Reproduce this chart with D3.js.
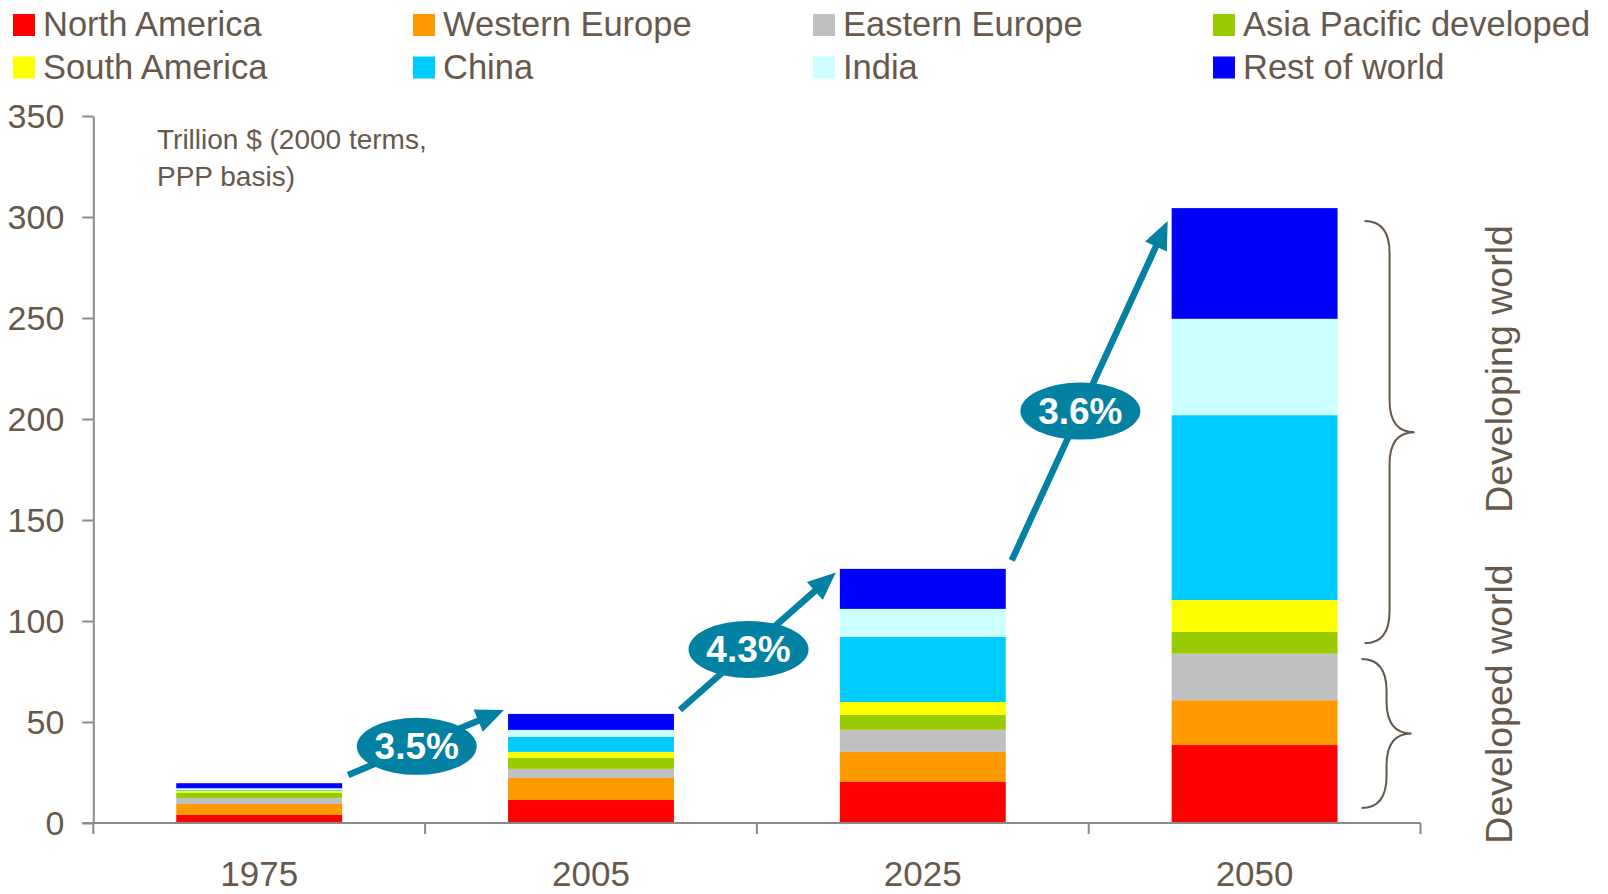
<!DOCTYPE html>
<html>
<head>
<meta charset="utf-8">
<script src="https://cdn.jsdelivr.net/npm/d3@7"></script>
<style>
  body { margin: 0; background: #fff; }
  svg { display: block; font-family: "Liberation Sans", Arial, sans-serif; }
</style>
</head>
<body>
<div id="chart"></div>
<script>
// data (trillion $, 2000 terms, PPP)
const years = ['1975', '2005', '2025', '2050'];
const regions = ['North America', 'Western Europe', 'Eastern Europe', 'Asia Pacific developed',
  'South America', 'China', 'India', 'Rest of world'];
const colors = ['#ff0000', '#ff9900', '#c0c0c0', '#99cc00', '#ffff00', '#00ccff', '#ccffff', '#0000ff'];

const northAmerica = [4.0, 11.4, 20.3, 38.6];
const westernEurope = [5.4, 10.9, 14.9, 22.2];
const easternEurope = [3.0, 4.5, 10.9, 23.0];
const asiaPacificDev = [2.6, 5.4, 7.4, 10.8];
const southAmerica = [1.0, 3.0, 6.4, 15.8];
const china = [0.4, 7.4, 32.2, 91.5];
const india = [0.8, 3.5, 13.9, 47.7];
const restOfWorld = [2.5, 7.9, 19.8, 54.8];

const yTicks = [0, 50, 100, 150, 200, 250, 300, 350];

// growth arrows between bars (value at tail / head)
const growthLabels = ['3.5%', '4.3%', '3.6%'];
const arrowFrom = [23.8, 56, 130];
const arrowTo = [56, 124, 298];

// braces on the right: [top value, bottom value]
const braceRanges = [[298, 89], [81.2, 7.4]];
const braceLabels = ['Developing world', 'Developed world'];

const series = [northAmerica, westernEurope, easternEurope, asiaPacificDev,
  southAmerica, china, india, restOfWorld];

const table = years.map((yr, i) => {
  const row = { year: yr };
  regions.forEach((r, k) => { row[r] = series[k][i]; });
  return row;
});

const W = 1608;
const H = 894;
const textColor = '#66594c';
const axisColor = '#8a8a8a';
const teal = '#0381a3';

const svg = d3.select('#chart').append('svg').attr('width', W).attr('height', H);

const x = d3.scaleBand().domain(years).range([93.3, 1420.5])
  .paddingInner(0.5).paddingOuter(0.25);
const y = d3.scaleLinear().domain([0, 350]).range([823, 116]);

const stacked = d3.stack().keys(regions)(table);
const color = d3.scaleOrdinal().domain(regions).range(colors);

// bars
svg.append('g').selectAll('g')
  .data(stacked)
  .join('g')
  .attr('fill', d => color(d.key))
  .selectAll('rect')
  .data(d => d)
  .join('rect')
  .attr('x', d => x(d.data.year))
  .attr('width', x.bandwidth())
  .attr('y', d => y(d[1]))
  .attr('height', d => y(d[0]) - y(d[1]));

// y axis
const yAxis = svg.append('g')
  .attr('transform', `translate(${x.range()[0]},0)`)
  .call(d3.axisLeft(y).tickValues(yTicks).tickSize(11).tickSizeOuter(0).tickPadding(18));
yAxis.select('.domain').attr('stroke', axisColor).attr('stroke-width', 2);
yAxis.selectAll('.tick line').attr('stroke', axisColor).attr('stroke-width', 2);
yAxis.selectAll('.tick text')
  .attr('fill', textColor).style('font-size', '34px').attr('dy', '0.35em');

// x axis: line with ticks at category boundaries
const step = x.step();
const x0 = x.range()[0];
const bounds = d3.range(years.length + 1).map(i => x0 + i * step);
const xAxis = svg.append('g');
xAxis.append('line')
  .attr('x1', x0 - 11).attr('x2', x.range()[1])
  .attr('y1', y(0)).attr('y2', y(0))
  .attr('stroke', axisColor).attr('stroke-width', 2);
xAxis.selectAll('line.tk')
  .data(bounds)
  .join('line')
  .attr('class', 'tk')
  .attr('x1', d => d).attr('x2', d => d)
  .attr('y1', y(0)).attr('y2', y(0) + 11)
  .attr('stroke', axisColor).attr('stroke-width', 2);
xAxis.selectAll('text')
  .data(years)
  .join('text')
  .attr('x', d => x(d) + x.bandwidth() / 2)
  .attr('y', 886)
  .attr('text-anchor', 'middle')
  .attr('fill', textColor)
  .style('font-size', '35px')
  .text(d => d);

// unit note
svg.append('text')
  .attr('x', 157).attr('y', 149)
  .attr('fill', textColor).style('font-size', '28px')
  .selectAll('tspan')
  .data(['Trillion $ (2000 terms,', 'PPP basis)'])
  .join('tspan')
  .attr('x', 157)
  .attr('dy', (d, i) => (i ? 37 : 0))
  .text(d => d);

// legend
const legend = svg.append('g').selectAll('g')
  .data(regions)
  .join('g')
  .attr('transform', (d, i) => `translate(${13 + (i % 4) * 400},${14 + Math.floor(i / 4) * 42.5})`);
legend.append('rect').attr('width', 22).attr('height', 22).attr('fill', d => color(d));
legend.append('text')
  .attr('x', 30).attr('y', 22)
  .attr('fill', textColor).style('font-size', '34.5px')
  .text(d => d);

// growth arrows
const arrows = growthLabels.map((lab, i) => {
  const ax = x(years[i]) + x.bandwidth() + 6;
  const bx = x(years[i + 1]) - 4;
  return { lab, ax, ay: y(arrowFrom[i]), bx, by: y(arrowTo[i]) };
});
const gA = svg.append('g').selectAll('g').data(arrows).join('g');
const headLen = 28;
const headHalf = 12;
gA.append('line')
  .attr('x1', d => d.ax).attr('y1', d => d.ay)
  .attr('x2', d => {
    const a = Math.atan2(d.by - d.ay, d.bx - d.ax);
    return d.bx - Math.cos(a) * (headLen - 2);
  })
  .attr('y2', d => {
    const a = Math.atan2(d.by - d.ay, d.bx - d.ax);
    return d.by - Math.sin(a) * (headLen - 2);
  })
  .attr('stroke', teal).attr('stroke-width', 6.5);
gA.append('path')
  .attr('fill', teal)
  .attr('d', d => {
    const a = Math.atan2(d.by - d.ay, d.bx - d.ax);
    const cx = d.bx - Math.cos(a) * headLen;
    const cy = d.by - Math.sin(a) * headLen;
    const px = -Math.sin(a) * headHalf;
    const py = Math.cos(a) * headHalf;
    return `M${d.bx},${d.by}L${cx + px},${cy + py}L${cx - px},${cy - py}Z`;
  });
const t = 0.44;
gA.append('ellipse')
  .attr('cx', d => d.ax + (d.bx - d.ax) * t)
  .attr('cy', d => d.ay + (d.by - d.ay) * t)
  .attr('rx', 60).attr('ry', 28.5)
  .attr('fill', teal);
gA.append('text')
  .attr('x', d => d.ax + (d.bx - d.ax) * t)
  .attr('y', d => d.ay + (d.by - d.ay) * t + 13)
  .attr('text-anchor', 'middle')
  .attr('fill', '#fff')
  .style('font-size', '37px').style('font-weight', 'bold')
  .text(d => d.lab);

// braces
function brace(xe, y1, y2) {
  const xm = xe + 25;
  const xt = xe + 50;
  const ym = (y1 + y2) / 2;
  const h = 32;
  return `M${xe},${y1}Q${xm},${y1} ${xm},${y1 + h}L${xm},${ym - h}Q${xm},${ym} ${xt},${ym}`
    + `Q${xm},${ym} ${xm},${ym + h}L${xm},${y2 - h}Q${xm},${y2} ${xe},${y2}`;
}
const braceX = x(years[3]) + x.bandwidth();
svg.append('g').selectAll('path')
  .data(braceRanges)
  .join('path')
  .attr('d', (d, i) => brace(braceX + 27 - i * 3, y(d[0]), y(d[1])))
  .attr('fill', 'none').attr('stroke', textColor).attr('stroke-width', 2);

const labelCentres = [369, 704];
svg.append('g').selectAll('text')
  .data(braceLabels)
  .join('text')
  .attr('transform', (d, i) => `translate(1512,${labelCentres[i]}) rotate(-90)`)
  .attr('text-anchor', 'middle')
  .attr('fill', textColor)
  .style('font-size', '37.5px')
  .text(d => d);
</script>
</body>
</html>
